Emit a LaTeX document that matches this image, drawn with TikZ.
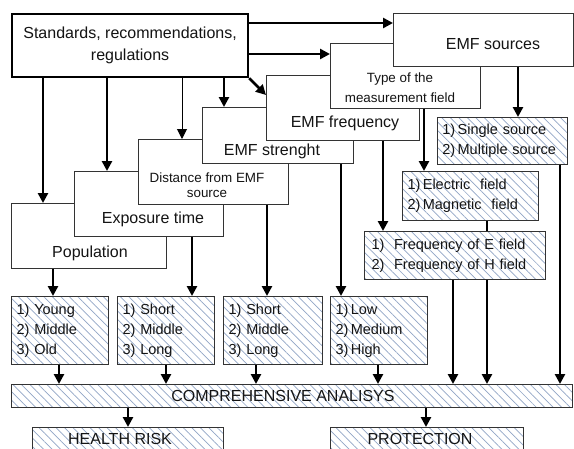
\documentclass[tikz,border=0pt]{standalone}
\usepackage{fontspec}
\setmainfont{Liberation Sans}
\usetikzlibrary{arrows.meta,patterns.meta}
\definecolor{hatchc}{RGB}{145,165,198}
\definecolor{txt}{RGB}{20,20,20}
\begin{document}
\begin{tikzpicture}[x=1pt,y=-1pt,
  font=\fontsize{16}{22}\selectfont, text=txt,
  stdbox/.style={draw=black, line width=2.2pt, fill=white, anchor=north west, align=center, inner sep=0pt},
  wbox/.style={draw=black!80, line width=1.1pt, fill=white, anchor=north west, inner sep=0pt},
  hbox/.style={draw=black!80, line width=1.1pt, anchor=north west, preaction={fill=white},
    pattern={Lines[angle=-45,distance=6pt,line width=0.7pt]}, pattern color=hatchc,
    align=left, inner sep=5pt, font=\fontsize{14.5}{20}\selectfont},
  lbl/.style={inner sep=0pt},
  arr/.style={line width=2.5pt, -{Triangle[length=10pt,width=10pt]}},
  arrthin/.style={line width=1pt, -{Triangle[length=10pt,width=10pt]}},
  plainline/.style={line width=1.4pt}]
\useasboundingbox (0,0) rectangle (574,448);
\clip (0,0) rectangle (574,448);

% standards
\node[stdbox, minimum width=236pt, minimum height=63pt] (std) at (11,13) {Standards, recommendations,\\regulations};

% stacked white boxes
\node[wbox, minimum width=155pt, minimum height=65pt] (pop) at (11,203) {};
\node[lbl] (popt) at (90,253) {Population};
\node[wbox, minimum width=149pt, minimum height=65pt] (exp) at (74,171) {};
\node[lbl] (expt) at (153,219) {Exposure time};
\node[wbox, minimum width=150pt, minimum height=65pt] (dist) at (138,139) {};
\node[lbl, font=\fontsize{13.4}{15.5}\selectfont, align=center] (distt) at (207,185) {Distance from EMF\\source};
\node[wbox, minimum width=151pt, minimum height=56pt] (str) at (202,107) {};
\node[lbl] (strt) at (272,151) {EMF strenght};
\node[wbox, minimum width=153pt, minimum height=65pt] (freq) at (266,75) {};
\node[lbl] (freqt) at (345,123) {EMF frequency};
\node[wbox, minimum width=150pt, minimum height=65pt] (type) at (330,43) {};
\node[lbl, font=\fontsize{13.4}{20}\selectfont, align=center] (typet) at (400,88) {Type of the\\measurement field};
\node[wbox, minimum width=180pt, minimum height=53pt] (src) at (393,13) {};
\node[lbl] (srct) at (493,44) {EMF sources};

% hatched boxes
\node[hbox, text width=120pt, minimum height=47pt] (single) at (437,117) {1)\,Single source\\2)\,Multiple source};
\node[hbox, text width=126pt, minimum height=49pt] (elec) at (402,171) {1)\,Electric\ \ field\\2)\,Magnetic\ \ field};
\node[hbox, text width=167pt, inner xsep=7pt, minimum height=48pt] (feh) at (364,231) {1)\ \ Frequency of E field\\2)\ \ Frequency of H field};
\node[hbox, text width=87pt, minimum height=68pt] (l1) at (11,296) {1) Young\\2) Middle\\3) Old};
\node[hbox, text width=87pt, minimum height=68pt] (l2) at (117,296) {1) Short\\2) Middle\\3) Long};
\node[hbox, text width=89pt, minimum height=68pt] (l3) at (223,296) {1) Short\\2) Middle\\3) Long};
\node[hbox, text width=87pt, minimum height=68pt] (l4) at (330,296) {1)\,Low\\2)\,Medium\\3)\,High};
\node[hbox, inner sep=0pt, minimum width=561pt, minimum height=23pt] (comp) at (11,384) {};
\node[lbl] (compt) at (283,396) {COMPREHENSIVE ANALISYS};
\node[hbox, inner sep=0pt, minimum width=191pt, minimum height=40pt] (health) at (32,427) {};
\node[lbl] (healtht) at (120,439) {HEALTH RISK};
\node[hbox, inner sep=0pt, minimum width=193pt, minimum height=40pt] (prot) at (330,427) {};
\node[lbl] (prott) at (420,439) {PROTECTION};

% reference coordinates for connector positions
\coordinate (a1) at (43,0);
\coordinate (a2) at (107,0);
\coordinate (a3) at (182,0);
\coordinate (a4) at (224,0);
\coordinate (b1) at (0,23);
\coordinate (b2) at (0,54);
\coordinate (c1) at (53,0);
\coordinate (c2) at (192,0);
\coordinate (c3) at (267,0);
\coordinate (c4) at (341,0);
\coordinate (c5) at (383,0);
\coordinate (c6) at (424,0);
\coordinate (c7) at (518,0);
\coordinate (c8) at (487,0);
\coordinate (c9) at (453,0);
\coordinate (c10) at (560,0);
\coordinate (d1) at (59,0);
\coordinate (d2) at (166,0);
\coordinate (d3) at (256,0);
\coordinate (d4) at (378,0);
\coordinate (e1) at (128,0);
\coordinate (e2) at (426,0);

% connectors from standards
\draw[arr] (std.south -| a1) -- (pop.north -| a1);
\draw[arr] (std.south -| a2) -- (exp.north -| a2);
\draw[arrthin] (std.south -| a3) -- (dist.north -| a3);
\draw[arr] (std.south -| a4) -- (str.north -| a4);
\draw[arr] (std.south east) -- ([yshift=-20pt]freq.north west);
\draw[arr] (std.east |- b1) -- (src.west |- b1);
\draw[arr] (std.east |- b2) -- (type.west |- b2);

% connectors to detail boxes
\draw[arr] (pop.south -| c1) -- (l1.north -| c1);
\draw[arr] (exp.south -| c2) -- (l2.north -| c2);
\draw[arr] (dist.south -| c3) -- (l3.north -| c3);
\draw[arr] (str.south -| c4) -- (l4.north -| c4);
\draw[arr] (freq.south -| c5) -- (feh.north -| c5);
\draw[arr] (type.south -| c6) -- (elec.north -| c6);
\draw[arr] (src.south -| c7) -- (single.north -| c7);

% connectors to comprehensive analysis
\draw[plainline] (elec.south -| c8) -- (feh.north -| c8);
\draw[arr] (feh.south -| c8) -- (comp.north -| c8);
\draw[arr] (feh.south -| c9) -- (comp.north -| c9);
\draw[arr] (single.south -| c10) -- (comp.north -| c10);
\draw[arr] (l1.south -| d1) -- (comp.north -| d1);
\draw[arr] (l2.south -| d2) -- (comp.north -| d2);
\draw[arr] (l3.south -| d3) -- (comp.north -| d3);
\draw[arr] (l4.south -| d4) -- (comp.north -| d4);

% results
\draw[arr] (comp.south -| e1) -- (health.north -| e1);
\draw[arr] (comp.south -| e2) -- (prot.north -| e2);
\end{tikzpicture}
\end{document}
